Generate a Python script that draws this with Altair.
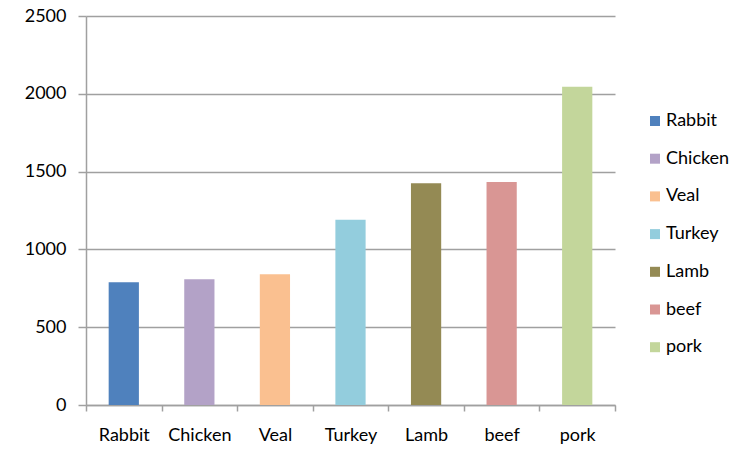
import altair as alt
import pandas as pd

categories = ["Rabbit", "Chicken", "Veal", "Turkey", "Lamb", "beef", "pork"]
values = [789, 808, 840, 1191, 1425, 1433, 2045]
colors = ["#4F81BD", "#B3A2C7", "#FAC090", "#93CDDD", "#948A54", "#D99694", "#C3D69B"]
y_ticks = [0, 500, 1000, 1500, 2000, 2500]

df = pd.DataFrame({"meat": categories, "value": values})

FONT = "Lato"
GRID = "#a0a0a0"
FS = 18

chart = alt.Chart(df).mark_bar(width=alt.RelativeBandSize(0.4)).encode(
    x=alt.X("meat:N", sort=categories, title=None,
            scale=alt.Scale(paddingInner=0, paddingOuter=0),
            axis=alt.Axis(labelAngle=0, tickBand="extent", tickSize=6,
                          labelPadding=15, domainColor=GRID, tickColor=GRID,
                          domainWidth=1.5, tickWidth=1.5,
                          labelFontSize=FS, labelFont=FONT, labelColor="#000",
                          grid=False)),
    y=alt.Y("value:Q", title=None,
            scale=alt.Scale(domain=[0, 2500], nice=False),
            axis=alt.Axis(values=y_ticks, format="d", grid=True, gridColor=GRID, gridWidth=1.5,
                          tickSize=8, tickColor=GRID, tickWidth=1.5,
                          domainColor=GRID, domainWidth=1.5,
                          labelPadding=12, labelFontSize=FS, labelFont=FONT,
                          labelColor="#000")),
    color=alt.Color("meat:N", sort=categories,
                    scale=alt.Scale(domain=categories, range=colors),
                    legend=alt.Legend(title=None, orient="none", legendX=560, legendY=96,
                                      symbolType="square", symbolSize=100,
                                      symbolStrokeWidth=0, rowPadding=19.7,
                                      labelFontSize=FS, labelFont=FONT,
                                      labelColor="#000", labelOffset=2)),
).properties(
    width=529, height=389,
    autosize=alt.AutoSizeParams(type="none"),
    padding={"left": 78, "top": 8, "right": 124, "bottom": 44},
).configure_view(stroke=None)

chart.save("out.html", embed_options={"renderer": "svg", "actions": False})
